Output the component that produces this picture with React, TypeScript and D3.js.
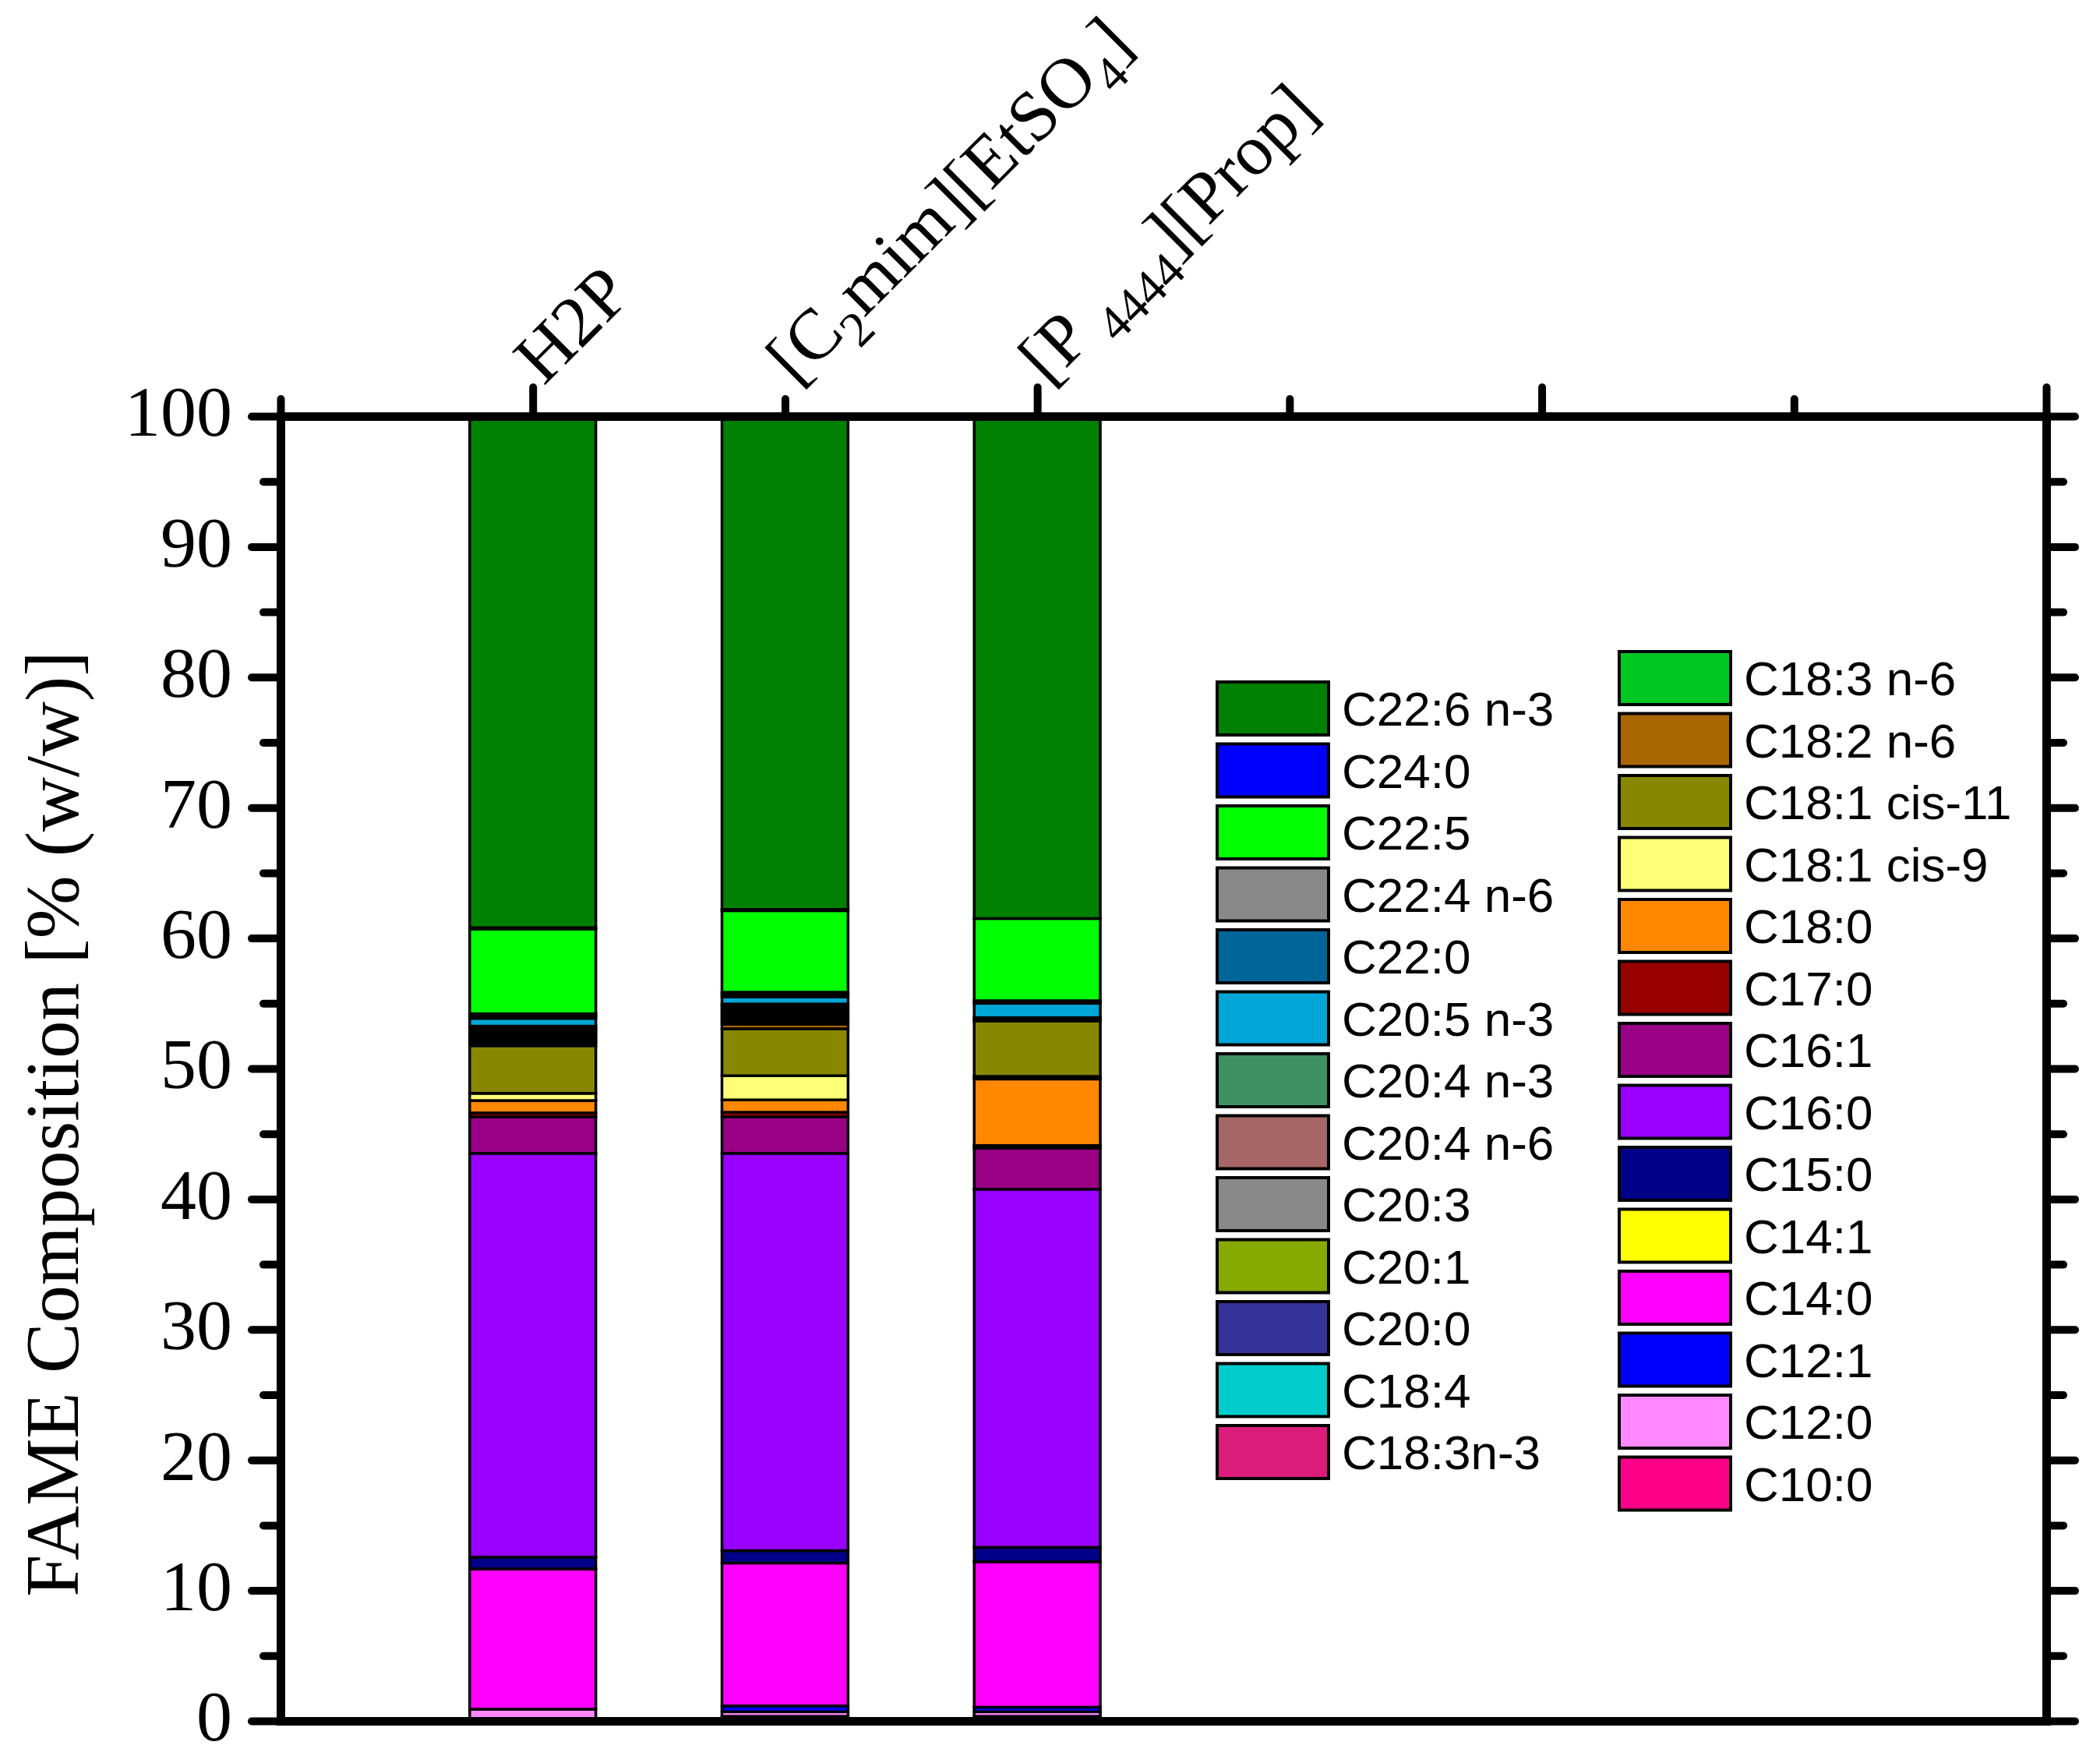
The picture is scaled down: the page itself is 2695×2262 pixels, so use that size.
import { useEffect, useRef } from "react";
import * as d3 from "d3";

// category labels, _{..} marks a subscript
const categories = ["H2P", "[C_{2}mim][EtSO_{4}]", "[P _{4444}][Prop]"];

// stack order, bottom to top
const fattyAcids = [
  "C10:0", "C12:0", "C12:1", "C14:0", "C14:1", "C15:0", "C16:0", "C16:1",
  "C17:0", "C18:0", "C18:1 cis-9", "C18:1 cis-11", "C18:2 n-6", "C18:3 n-6",
  "C18:3n-3", "C18:4", "C20:0", "C20:1", "C20:3", "C20:4 n-6", "C20:4 n-3",
  "C20:5 n-3", "C22:0", "C22:4 n-6", "C22:5", "C24:0", "C22:6 n-3",
];

const acidColors = [
  "#FF0088", "#FF88FF", "#0000FF", "#FF00FF", "#FFFF00", "#000088", "#9900FF", "#990085",
  "#990000", "#FF8800", "#FFFF77", "#888800", "#AA6600", "#00C823",
  "#DC1C7A", "#00CCCC", "#333399", "#88AA00", "#888888", "#A66666", "#3E9060",
  "#00A6D6", "#006699", "#888888", "#00FF00", "#0000FF", "#008000",
];

// % (w/w), same order as fattyAcids
const h2pValues = [
  0, 0.9, 0, 10.75, 0, 0.9, 30.95, 2.8, 0.3, 0.95, 0.55, 3.65, 0.2, 0.15,
  0.2, 0.15, 0.2, 0.15, 0.15, 0.15, 0.15, 0.6, 0.2, 0.15, 6.5, 0.1, 39.2,
];
const c2mimValues = [
  0.35, 0.35, 0.45, 10.95, 0, 0.95, 30.45, 2.8, 0.35, 0.95, 1.85, 3.6, 0.35, 0.2,
  0.2, 0.2, 0.2, 0.2, 0.2, 0.2, 0.15, 0.55, 0.2, 0.15, 6.25, 0.1, 37.8,
];
const p4444Values = [
  0.35, 0.35, 0.35, 11.15, 0, 1.1, 27.45, 3.15, 0.2, 5.1, 0.2, 4.25, 0.1, 0,
  0.15, 0, 0, 0, 0, 0, 0, 1.1, 0.2, 0, 6.3, 0, 38.5,
];

const yMajor = [0, 10, 20, 30, 40, 50, 60, 70, 80, 90, 100];
const yMinor = [5, 15, 25, 35, 45, 55, 65, 75, 85, 95];
const xMajor = [1, 3, 5, 7];
const xMinor = [0, 2, 4, 6];

const W = 2695;
const H = 2262;
const SERIF = "'Liberation Serif', 'Times New Roman', serif";
const SANS = "'Liberation Sans', Arial, sans-serif";

function parseLabel(s: string) {
  const parts: { text: string; sub: boolean }[] = [];
  const re = /_\{([^}]*)\}/g;
  let last = 0;
  let m: RegExpExecArray | null;
  while ((m = re.exec(s))) {
    if (m.index > last) parts.push({ text: s.slice(last, m.index), sub: false });
    parts.push({ text: m[1], sub: true });
    last = m.index + m[0].length;
  }
  if (last < s.length) parts.push({ text: s.slice(last), sub: false });
  return parts;
}

export default function App() {
  const svgRef = useRef<SVGSVGElement | null>(null);

  useEffect(() => {
    if (!svgRef.current) return;
    const svg = d3.select(svgRef.current);
    svg.selectAll("*").remove();

    svg.append("rect").attr("width", W).attr("height", H).attr("fill", "#fff");

    const x = d3.scaleLinear().domain([0, 7]).range([360, 2626]);
    const y = d3.scaleLinear().domain([0, 100]).range([2208, 534]);
    const color = d3.scaleOrdinal<string, string>().domain(fattyAcids).range(acidColors);

    const rows = [h2pValues, c2mimValues, p4444Values].map((vals, i) => {
      const r: any = { pos: i + 1 };
      fattyAcids.forEach((k, j) => (r[k] = vals[j]));
      return r;
    });
    const series = d3.stack<any>().keys(fattyAcids)(rows);
    const barW = x(0.5) - x(0);

    // stacked bars
    svg
      .append("g")
      .selectAll("g")
      .data(series)
      .join("g")
      .attr("fill", (d) => color(d.key))
      .selectAll("rect")
      .data((d) => d.filter((s) => s[1] - s[0] > 0))
      .join("rect")
      .attr("x", (d) => x(d.data.pos) - barW / 2)
      .attr("width", barW)
      .attr("y", (d) => y(d[1]))
      .attr("height", (d) => y(d[0]) - y(d[1]))
      .attr("stroke", "#000")
      .attr("stroke-width", 3.5);

    const styleAxis = (g: d3.Selection<SVGGElement, unknown, null, undefined>) => {
      g.select(".domain").attr("stroke-width", 11).attr("stroke-linecap", "square");
      g.selectAll(".tick line").attr("stroke-width", 10).attr("stroke-linecap", "round");
    };

    // left axis
    const left = svg
      .append("g")
      .attr("transform", `translate(${x(0)},0)`)
      .call(d3.axisLeft(y).tickValues(yMajor).tickSize(37).tickPadding(25).tickSizeOuter(0))
      .attr("font-family", SERIF)
      .attr("font-size", 92);
    left.selectAll(".tick text").attr("dy", "0.27em").attr("fill", "#000");
    styleAxis(left);
    const leftMinor = svg
      .append("g")
      .attr("transform", `translate(${x(0)},0)`)
      .call(d3.axisLeft(y).tickValues(yMinor).tickSize(22).tickFormat(() => "").tickSizeOuter(0));
    styleAxis(leftMinor);

    // right axis
    const right = svg
      .append("g")
      .attr("transform", `translate(${x(7)},0)`)
      .call(d3.axisRight(y).tickValues(yMajor).tickSize(37).tickFormat(() => "").tickSizeOuter(0));
    styleAxis(right);
    const rightMinor = svg
      .append("g")
      .attr("transform", `translate(${x(7)},0)`)
      .call(d3.axisRight(y).tickValues(yMinor).tickSize(22).tickFormat(() => "").tickSizeOuter(0));
    styleAxis(rightMinor);

    // top axis
    const top = svg
      .append("g")
      .attr("transform", `translate(0,${y(100)})`)
      .call(d3.axisTop(x).tickValues(xMajor).tickSize(37).tickFormat(() => "").tickSizeOuter(0));
    styleAxis(top);
    const topMinor = svg
      .append("g")
      .attr("transform", `translate(0,${y(100)})`)
      .call(d3.axisTop(x).tickValues(xMinor).tickSize(22).tickFormat(() => "").tickSizeOuter(0));
    styleAxis(topMinor);

    // bottom axis (line only)
    const bottom = svg
      .append("g")
      .attr("transform", `translate(0,${y(0)})`)
      .call(d3.axisBottom(x).tickValues([]).tickSizeOuter(0));
    styleAxis(bottom);

    // category labels on the top axis
    const labG = svg.append("g").attr("font-family", SERIF).attr("font-size", 92).attr("fill", "#000");
    categories.forEach((c, i) => {
      const t = labG
        .append("text")
        .attr("transform", `translate(${x(i + 1) + 14},${y(100) - 38}) rotate(-45)`);
      let shifted = false;
      parseLabel(c).forEach((p) => {
        const ts = t.append("tspan").text(p.text);
        if (p.sub) {
          ts.attr("font-size", 64).attr("dy", shifted ? 0 : 24);
          shifted = true;
        } else if (shifted) {
          ts.attr("dy", -24);
          shifted = false;
        }
      });
    });

    // y title
    svg
      .append("text")
      .attr("transform", `translate(100,1442) rotate(-90)`)
      .attr("text-anchor", "middle")
      .attr("font-family", SERIF)
      .attr("font-size", 97)
      .attr("fill", "#000")
      .text("FAME Composition [% (w/w)]");

    // legend, two columns, top of stack first
    const legendOrder = fattyAcids.slice().reverse();
    const columns = [
      { x: 1562, y: 875, items: legendOrder.slice(0, 13) },
      { x: 2078, y: 836, items: legendOrder.slice(13) },
    ];
    const step = 79.5;
    columns.forEach((col) => {
      const item = svg
        .append("g")
        .selectAll("g")
        .data(col.items)
        .join("g")
        .attr("transform", (_, i) => `translate(${col.x},${col.y + i * step})`);
      item
        .append("rect")
        .attr("width", 143)
        .attr("height", 68)
        .attr("fill", (d) => color(d))
        .attr("stroke", "#000")
        .attr("stroke-width", 4);
      item
        .append("text")
        .attr("x", 160)
        .attr("y", 34)
        .attr("dy", "0.36em")
        .attr("font-family", SANS)
        .attr("font-size", 62)
        .attr("fill", "#000")
        .text((d) => d);
    });
  }, []);

  return (
    <svg
      ref={svgRef}
      width={W}
      height={H}
      style={{ position: "absolute", left: 0, top: 0, display: "block" }}
    />
  );
}
